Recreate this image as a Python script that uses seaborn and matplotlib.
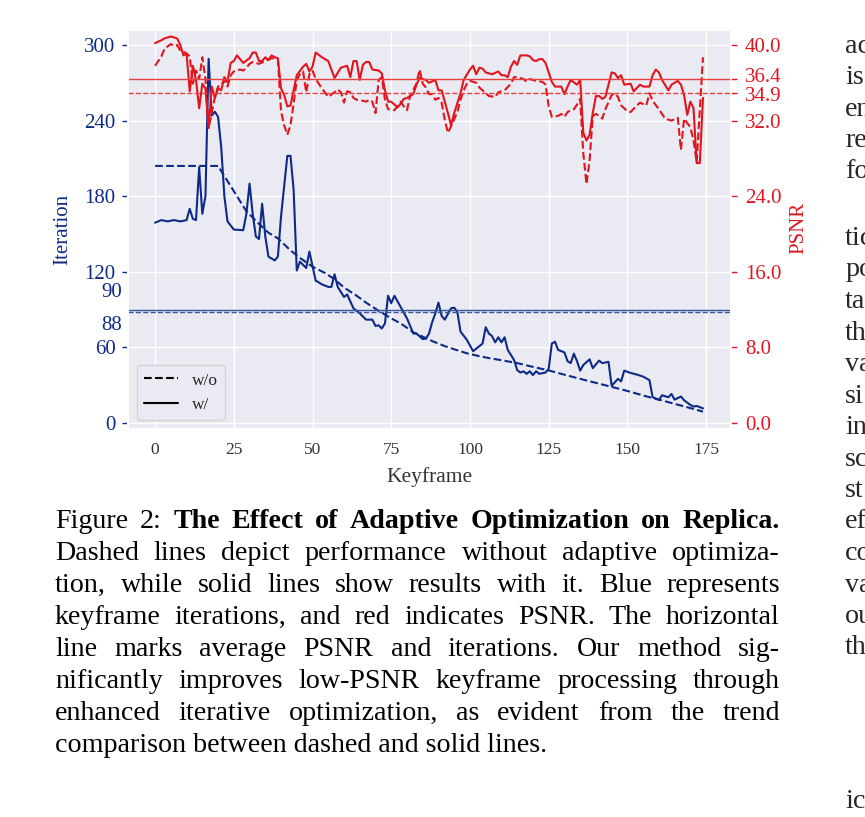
import matplotlib
matplotlib.use("Agg")
import matplotlib.pyplot as plt
from matplotlib.lines import Line2D
import seaborn as sns

# ---- data ----
# iterations per keyframe, with adaptive optimization (w/)
iter_w_kf = [0, 2, 4, 6, 8, 10, 11, 12, 13, 14, 15, 16, 17, 18, 19, 20, 21, 22, 23, 25, 28, 29, 30, 31, 32, 33,
             34, 35, 36, 38, 39, 40, 42, 43, 44, 45, 46, 48, 49, 51, 53, 55, 56, 57, 58, 60, 61, 63, 65, 67, 69,
             70, 71, 72, 73, 74, 75, 76, 78, 80, 81, 82, 83, 85, 86, 87, 88, 89, 90, 91, 92, 94, 95, 96, 97, 99,
             101, 103, 104, 105, 106, 107, 108, 109, 110, 111, 112, 114, 115, 116, 117, 118, 119, 120, 121, 122,
             124, 125, 126, 127, 128, 130, 131, 132, 133, 134, 135, 136, 138, 139, 141, 142, 144, 145, 147, 148,
             149, 151, 153, 155, 157, 158, 160, 161, 163, 164, 165, 167, 168, 170, 171, 172, 174]
iter_w = [159, 161, 160, 161, 160, 161, 170, 162, 161, 203, 166, 180, 289, 244, 247, 243, 219, 180, 160, 153.5,
          153, 166, 190, 166, 148, 146, 174, 148, 132, 129, 132, 164, 212, 212, 185, 121, 128, 123, 136, 113, 110,
          108, 108, 118, 108, 100, 102, 91, 87, 82, 82, 77, 77.5, 75, 79, 101, 95, 101, 92, 83, 77, 71, 71, 66.5,
          67, 71, 80, 87, 95.5, 85, 82, 91, 91.5, 88, 72.5, 66, 57, 61, 63, 76, 71, 69, 64, 68, 64, 68, 58, 50, 42,
          40, 41, 39, 41, 38, 41, 39, 40, 43, 63, 64.5, 58, 56, 49, 47.5, 55, 49, 41.5, 46, 50.5, 43.5, 49.5, 47.5,
          48.5, 29.5, 35, 33, 41.5, 39.7, 38.4, 36.8, 34, 20.5, 18.3, 22, 20.4, 23, 18.5, 21, 18, 14.3, 13, 13.5,
          11.6]

# iterations per keyframe, without adaptive optimization (w/o)
iter_wo_kf = [0, 20, 22, 25, 29, 33, 36, 39, 43, 46, 50, 54, 57, 60, 64, 67, 71, 75, 78, 82, 85, 88, 92, 95, 99,
              103, 106, 110, 115, 120, 125, 130, 135, 140, 146, 150, 155, 158, 162, 166, 170, 174]
iter_wo = [204, 204, 196, 184, 168, 158, 151, 146.5, 137, 131, 124, 119, 114, 107.5, 101, 95.5, 89, 83, 79, 72,
           68.5, 65, 61, 58.5, 55.3, 53, 51.5, 49.8, 47.5, 44.5, 41.7, 38.3, 35, 31.8, 28, 25.4, 21.8, 19.8, 17.2,
           14.5, 11.8, 9]

# PSNR per keyframe, w/
psnr_w_kf = [0, 2, 3, 5, 7, 8, 9, 10, 11, 12, 13, 14, 15, 16, 17, 18, 19, 20, 21, 22, 23, 24, 25, 26, 27, 28, 30,
             31, 32, 33, 34, 35, 36, 37, 38, 39, 40, 41, 42, 43, 44, 45, 47, 48, 49, 50, 51, 53, 55, 57, 59, 61,
             62, 63, 64, 65, 66, 67, 68, 69, 71, 72, 73, 74, 75, 76, 77, 78, 79, 80, 82, 83, 84, 86, 87, 89, 90,
             91, 92, 93, 94, 95, 97, 98, 100, 101, 102, 103, 104, 105, 107, 109, 110, 111, 112, 113, 114, 115,
             116, 118, 119, 120, 121, 122, 123, 124, 126, 127, 129, 130, 131, 132, 134, 135, 136, 137, 138, 139,
             140, 141, 142, 143, 144, 145, 146, 147, 148, 149, 151, 152, 154, 155, 157, 158, 159, 160, 161, 163,
             164, 166, 167, 168, 169, 170, 171, 172, 173, 174]
psnr_w = [40.2, 40.5, 40.7, 40.9, 40.7, 40.0, 38.9, 39.1, 35.1, 37.8, 36.3, 33.3, 35.9, 35.4, 31.2, 35.6, 34.4,
          35.4, 35.2, 36.6, 36.1, 38.1, 38.3, 38.9, 38.5, 38.1, 38.6, 39.2, 39.2, 38.3, 38.3, 38.7, 38.4, 38.9,
          38.7, 38.6, 35.4, 34.7, 33.5, 33.6, 35.2, 36.8, 37.7, 38.0, 37.2, 37.7, 39.2, 38.7, 38.3, 36.5, 37.6,
          37.8, 36.6, 38.3, 38.3, 36.3, 37.9, 38.2, 38.2, 37.4, 37.3, 37.0, 35.2, 34.0, 34.0, 33.7, 33.4, 33.8,
          34.3, 34.4, 34.8, 35.8, 36.5, 36.3, 36.0, 36.3, 35.2, 35.2, 34.0, 32.8, 31.5, 32.8, 34.9, 36.3, 37.4,
          37.8, 36.9, 37.6, 37.5, 37.1, 36.9, 37.2, 36.8, 36.8, 36.6, 37.7, 38.3, 37.9, 38.9, 38.9, 38.8, 38.4,
          38.3, 38.5, 38.5, 38.1, 36.1, 35.6, 35.6, 34.8, 35.6, 36.3, 35.8, 36.3, 30.7, 29.9, 30.5, 32.8, 34.6,
          34.6, 34.3, 34.5, 35.8, 37.1, 37.0, 36.5, 36.8, 35.8, 35.9, 35.1, 35.8, 35.6, 35.6, 36.8, 37.4, 37.1,
          36.3, 35.2, 35.8, 36.2, 35.8, 34.7, 32.6, 34.0, 33.3, 27.5, 27.5, 34.4]

# PSNR per keyframe, w/o
psnr_wo_kf = [0, 2, 3, 5, 6, 7, 8, 9, 10, 11, 12, 13, 14, 15, 16, 17, 18, 19, 20, 21, 22, 23, 24, 25, 27, 28, 29,
              30, 31, 33, 35, 37, 39, 40, 41, 42, 43, 44, 45, 46, 47, 48, 49, 50, 51, 53, 55, 57, 58, 59, 60, 61,
              62, 63, 64, 66, 67, 68, 69, 70, 71, 72, 73, 74, 76, 77, 78, 79, 80, 81, 83, 84, 85, 86, 87, 88, 89,
              90, 91, 92, 93, 94, 96, 97, 98, 99, 100, 102, 103, 105, 106, 108, 109, 111, 113, 114, 115, 117, 118,
              119, 121, 123, 124, 125, 126, 128, 129, 130, 131, 132, 133, 134, 135, 136, 137, 138, 139, 140, 141,
              142, 143, 145, 146, 147, 148, 150, 151, 153, 154, 156, 157, 158, 160, 161, 162, 164, 166, 167, 168,
              170, 171, 172, 174]
psnr_wo = [37.8, 38.8, 39.6, 40.1, 39.9, 40.0, 39.4, 39.3, 39.1, 38.8, 35.9, 37.3, 36.4, 38.7, 36.4, 31.2, 32.8,
           34.5, 35.6, 35.8, 36.3, 35.6, 36.8, 37.2, 37.4, 37.3, 37.6, 38.0, 38.2, 38.0, 38.3, 38.6, 38.5, 33.0,
           31.5, 30.5, 31.5, 33.8, 36.3, 36.9, 37.2, 35.0, 36.9, 37.3, 36.4, 35.4, 34.5, 35.0, 35.3, 35.0, 33.9,
           35.1, 35.0, 34.4, 34.2, 34.1, 34.0, 34.2, 34.0, 32.8, 36.3, 36.6, 34.2, 33.2, 33.1, 33.5, 34.0, 33.5,
           33.1, 34.6, 35.9, 37.4, 35.9, 35.5, 34.8, 34.8, 34.2, 34.4, 33.9, 32.1, 30.7, 31.4, 32.9, 34.2, 35.2,
           35.9, 36.2, 36.0, 35.5, 34.9, 34.6, 34.5, 35.0, 35.2, 35.9, 36.6, 36.6, 36.4, 36.1, 36.4, 36.2, 36.1,
           35.8, 33.5, 32.4, 32.5, 32.7, 32.4, 32.9, 33.1, 33.2, 33.7, 34.3, 28.5, 25.3, 27.8, 32.5, 32.7, 32.5,
           32.2, 33.2, 34.7, 34.9, 34.5, 33.6, 33.0, 32.9, 33.6, 33.9, 33.6, 34.9, 34.1, 33.2, 32.7, 32.2, 32.0,
           32.3, 28.9, 32.2, 31.3, 29.9, 27.6, 38.7]

# averages (horizontal lines)
iter_mean_w, iter_mean_wo = 90, 88
psnr_mean_w, psnr_mean_wo = 36.4, 34.9

iter_ticks = [0, 60, 120, 180, 240, 300]
psnr_ticks = [0.0, 8.0, 16.0, 24.0, 32.0, 40.0]
x_ticks = [0, 25, 50, 75, 100, 125, 150, 175]

caption_head = "Figure 2:"
caption_title = "The Effect of Adaptive Optimization on Replica."
caption_lines = [
    "Dashed lines depict performance without adaptive optimiza-",
    "tion, while solid lines show results with it. Blue represents",
    "keyframe iterations, and red indicates PSNR. The horizontal",
    "line marks average PSNR and iterations. Our method sig-",
    "nificantly improves low-PSNR keyframe processing through",
    "enhanced iterative optimization, as evident from the trend",
    "comparison between dashed and solid lines.",
]
side_top = ["ac", "is", "en", "re", "fo"]
side_mid = ["tic", "po", "ta", "th", "va", "si", "in", "sc", "st", "ef", "co", "va", "ou", "th"]
side_bottom = ["ic"]

BLUE = "#0e2a87"
RED = "#e2141d"
W, H = 865, 817

sns.set_theme(style="darkgrid")
plt.rcParams["font.family"] = ["Liberation Serif", "DejaVu Serif"]

fig = plt.figure(figsize=(W / 100, H / 100), dpi=100)
ax = fig.add_axes([128 / W, 1 - 429 / H, 603 / W, 399 / H])
ax2 = ax.twinx()

# iteration lines
sns.lineplot(x=iter_wo_kf, y=iter_wo, ax=ax, color=BLUE, lw=1.5, linestyle="--", estimator=None, sort=False)
sns.lineplot(x=iter_w_kf, y=iter_w, ax=ax, color=BLUE, lw=1.5, estimator=None, sort=False)
ax.axhline(iter_mean_w, color="#3a56a0", lw=1.0)
ax.axhline(iter_mean_wo, color="#3a56a0", lw=1.0, linestyle="--")

# psnr lines
sns.lineplot(x=psnr_wo_kf, y=psnr_wo, ax=ax2, color=RED, lw=1.5, linestyle="--", estimator=None, sort=False)
sns.lineplot(x=psnr_w_kf, y=psnr_w, ax=ax2, color=RED, lw=1.5, estimator=None, sort=False)
ax2.axhline(psnr_mean_w, color="#e8403f", lw=1.0)
ax2.axhline(psnr_mean_wo, color="#e8403f", lw=1.0, linestyle="--")

ax.set_xlim(-8.6, 182.9)
ax.set_ylim(-4.8, 311.9)
ax2.set_ylim(-4.8 * 40 / 300, 311.9 * 40 / 300)
ax2.grid(False)

ax.set_xticks(x_ticks)
ax.set_yticks(iter_ticks)
ax2.set_yticks(psnr_ticks + [psnr_mean_wo, psnr_mean_w])
ax2.set_yticklabels([f"{v:.1f}" for v in psnr_ticks] + ["", ""])

ax.tick_params(axis="x", labelsize=12.5, pad=9, length=0, labelcolor="#333333")
ax.tick_params(axis="y", labelsize=15, left=True, length=4, width=1, color=BLUE, labelcolor=BLUE, pad=5)
ax2.tick_params(axis="y", labelsize=15, right=True, length=4, width=1, color=RED, labelcolor=RED, pad=6)

# extra labels for the averages, squeezed next to each other like the original
ax.annotate(str(iter_mean_w), xy=(0, iter_mean_w), xycoords=ax.get_yaxis_transform(),
            xytext=(-4.5, 12), textcoords="offset points", ha="right", va="center", fontsize=15, color=BLUE)
ax.annotate(str(iter_mean_wo), xy=(0, iter_mean_wo), xycoords=ax.get_yaxis_transform(),
            xytext=(-4.5, -9.5), textcoords="offset points", ha="right", va="center", fontsize=15, color=BLUE)
ax2.annotate(f"{psnr_mean_w:.1f}", xy=(1, psnr_mean_w), xycoords=ax2.get_yaxis_transform(),
             xytext=(10, 1.2), textcoords="offset points", ha="left", va="center", fontsize=15, color=RED)
ax2.annotate(f"{psnr_mean_wo:.1f}", xy=(1, psnr_mean_wo), xycoords=ax2.get_yaxis_transform(),
             xytext=(10, -2.2), textcoords="offset points", ha="left", va="center", fontsize=15, color=RED)

ax.set_xlabel("Keyframe", fontsize=15.5, color="#333333")
ax.xaxis.set_label_coords(0.5003, -0.095)
ax.set_ylabel("Iteration", fontsize=15, color=BLUE)
ax.yaxis.set_label_coords(-0.093, 0.5)
ax2.set_ylabel("PSNR", fontsize=15, color=RED)
ax2.yaxis.set_label_coords(1.097, 0.504)

handles = [Line2D([], [], color="black", lw=1.5, linestyle="--"),
           Line2D([], [], color="black", lw=1.5)]
ax.legend(handles, ["w/o", "w/"], loc="lower left", fontsize=12.5)
ax.set_zorder(1)
ax2.set_zorder(2)
ax2.patch.set_visible(False)

# ---- caption below the chart, justified like the paper ----
CAP = 20.2
x0, x1 = 55, 780
fig.canvas.draw()
renderer = fig.canvas.get_renderer()


def place_justified(words, y_px):
    texts = []
    for w, bold in words:
        t = fig.text(0, 1 - y_px / H, w, fontsize=CAP, fontweight="bold" if bold else "normal",
                     va="baseline", ha="left", color="black")
        texts.append(t)
    widths = [t.get_window_extent(renderer).width for t in texts]
    gap = max((x1 - x0 - sum(widths)) / (len(texts) - 1), 3)
    x = x0
    for t, w in zip(texts, widths):
        t.set_x(x / W)
        x += w + gap


base0 = 528
step = 32
first = [(w, False) for w in caption_head.split()] + [(w, True) for w in caption_title.split()]
place_justified(first, base0)
for i, line in enumerate(caption_lines):
    y = base0 + step * (i + 1)
    if i < len(caption_lines) - 1:
        place_justified([(w, False) for w in line.split()], y)
    else:
        fig.text(x0 / W, 1 - y / H, line, fontsize=CAP, va="baseline", ha="left", color="black")

# neighbouring column, cut off at the page edge
for i, s in enumerate(side_top):
    fig.text(845 / W, 1 - (53 + 31.3 * i) / H, s, fontsize=CAP, va="baseline", ha="left")
for i, s in enumerate(side_mid):
    fig.text(845 / W, 1 - (245 + 31.5 * i) / H, s, fontsize=CAP, va="baseline", ha="left")
for i, s in enumerate(side_bottom):
    fig.text(845 / W, 1 - 808 / H, s, fontsize=CAP, va="baseline", ha="left")

fig.savefig("out.png", dpi=100)
